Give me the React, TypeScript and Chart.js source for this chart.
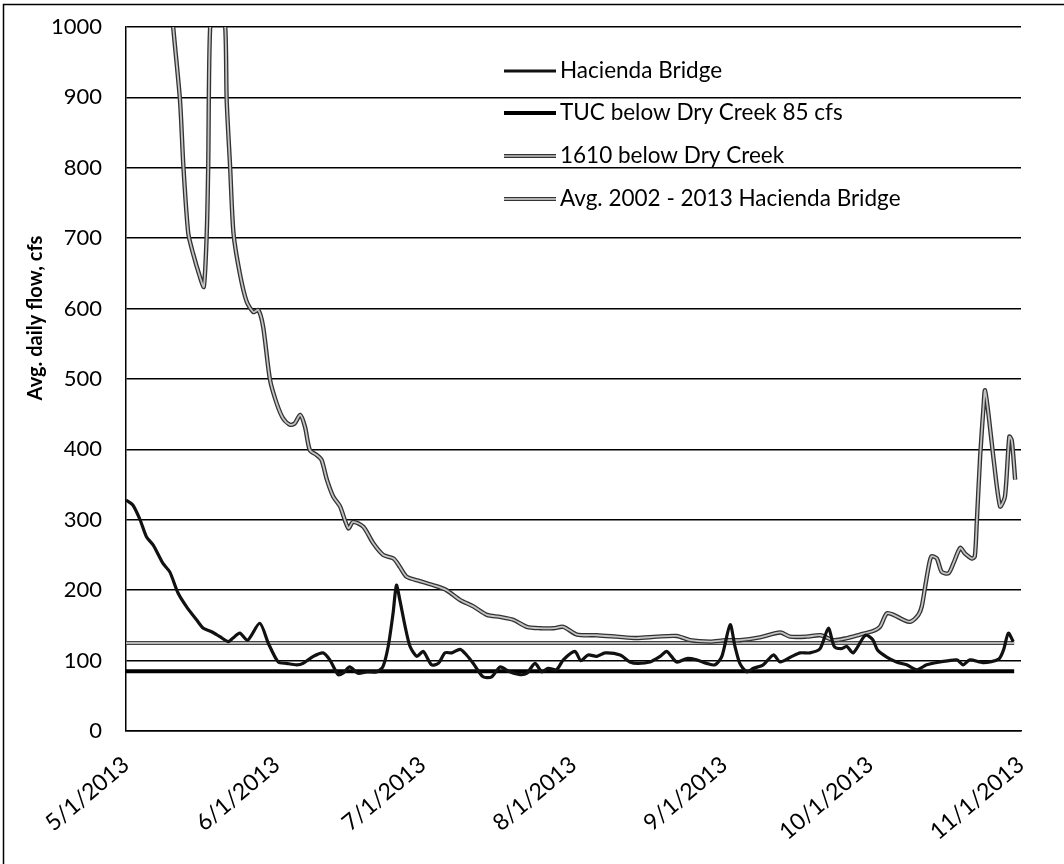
import { useEffect, useRef } from 'react';
import { Chart, registerables } from 'chart.js';

Chart.register(...registerables);

// ---- Data (day offsets from 5/1/2013, average daily flow in cfs) ----
const monthTickDays = [0, 31, 61, 92, 123, 153, 184];
const monthTickLabels = ['5/1/2013', '6/1/2013', '7/1/2013', '8/1/2013', '9/1/2013', '10/1/2013', '11/1/2013'];
const yAxisTitle = 'Avg. daily flow, cfs';

const seriesNames = [
  'Hacienda Bridge',
  'TUC below Dry Creek 85 cfs',
  '1610 below Dry Creek',
  'Avg. 2002 - 2013 Hacienda Bridge',
];

const haciendaDays = [
  0, 1.4, 2.9, 4.2, 5.6, 7.6, 9, 10.7, 12.5, 14.5, 15.9, 17.6, 19.3, 21, 22, 23.4, 25, 27.5, 29.3,
  31.3, 33, 35.1, 36.4, 38.5, 40.5, 41.9, 43.6, 44.6, 46, 47.7, 49.5, 51.5, 52.8, 53.9, 54.9, 55.6,
  56.3, 57.4, 58.4, 59.8, 61.1, 62.8, 64.2, 65.6, 67, 68.7, 70, 71.4, 73.4, 75.2, 76.9, 78.9, 81,
  82.4, 84.1, 85.5, 86.8, 88.5, 89.9, 92.3, 93.5, 95, 96.8, 98.5, 101.6, 103.6, 105.3, 107.7, 109.8,
  111.2, 113.2, 115.3, 117.3, 119.4, 121.1, 122.5, 124.2, 125.2, 126.2, 127.6, 129, 131, 133.1,
  134.5, 136.9, 138.6, 140.6, 142.7, 144.4, 145.6, 147, 148.2, 149.5, 152, 153.5, 154.5, 156.4,
  158.4, 160.5, 162.6, 164.6, 167.4, 170.8, 172.1, 173.5, 176.3, 179.4, 180.4, 181.4, 182.4,
];
const haciendaFlow = [
  328, 321, 300, 276, 264, 238, 226, 196, 176, 158, 146, 141, 134, 127, 132, 139, 129, 153, 124,
  98, 96, 94, 96, 106, 111, 101, 80, 82, 91, 82, 84, 84, 91, 120, 167, 207,
  186, 148, 120, 106, 113, 94, 96, 111, 111, 116, 108, 96, 77, 77, 91, 84, 80,
  82, 96, 84, 89, 87, 101, 113, 100, 108, 106, 111, 108, 98, 96, 98, 106,
  113, 98, 103, 101, 96, 94, 106, 151, 120, 96, 84, 89, 94, 108,
  98, 106, 111, 111, 117, 146, 120, 117, 120, 111, 136, 130, 115, 105,
  98, 94, 87, 94, 98, 101, 94, 101, 97, 102, 115, 139, 127,
];

const tucDays = [0, 182.6];
const tucFlow = [85, 85];

const site1610Days = [
  9, 9.7, 11.1, 11.8, 12.8, 13.8, 15.2, 16, 16.6, 16.9, 17.3, 18.8, 20.4, 20.7, 21.4, 22.1, 23.4,
  24.8, 26.2, 27.2, 28.2, 29.6, 31, 32.3, 33.7, 34.7, 35.8, 36.8, 37.8, 39.2, 40.2, 41.3, 42.6, 44,
  45.7, 46.7, 48.8, 50.8, 52.9, 55, 56.3, 57.7, 60.4, 63.2, 65.9, 68.7, 71.4, 74.2, 76.9, 79.6,
  82.4, 85.1, 87.9, 89.9, 92.7, 96.8, 100.9, 105, 109.1, 113.2, 116, 120.1, 123.2, 126.2, 130.3,
  134.5, 136.5, 139.9, 142.8, 145.5, 148.2, 150.9, 153.6, 155, 156.4, 157.8, 159.8, 161.2, 162.9,
  163.6, 164.3, 165, 165.6, 166.7, 167.7, 169.1, 170.1, 171.5, 172.5, 173.9, 174.5, 174.9, 175.6,
  176.3, 176.6, 177.3, 178.3, 179.7, 180.7, 181.6, 182.1, 182.8,
];
const site1610Flow = [
  1060, 1000, 896, 802, 707, 678, 645, 631, 707, 802, 1000, 1100, 1000, 896, 802, 707, 650,
  610, 595, 598, 574, 499, 465, 444, 435, 437, 449, 432, 399, 392, 385, 357, 333, 319,
  288, 297, 290, 267, 250, 245, 233, 219, 213, 207, 200, 186, 177, 165, 162, 158,
  148, 146, 146, 148, 137, 136, 134, 132, 134, 135, 129, 127, 129, 129, 133,
  140, 134, 134, 136, 129, 132, 137, 142, 148, 167, 165, 158, 155, 165,
  177, 205, 233, 248, 245, 226, 224, 238, 260, 252, 245, 248, 295, 390,
  461, 484, 451, 390, 319, 333, 418, 413, 357,
];

const avgDays = [0, 182.6];
const avgFlow = [125, 125];

const pts = (xs: number[], ys: number[]) => xs.map((x, i) => ({ x, y: ys[i] }));

const FONT = 'Lato, "Open Sans", sans-serif';

const overlayPlugin = {
  id: 'overlay',
  afterDraw(chart: any) {
    const ctx = chart.ctx as CanvasRenderingContext2D;
    ctx.save();
    // outer frame
    ctx.strokeStyle = '#000';
    ctx.lineWidth = 1.5;
    ctx.beginPath();
    ctx.moveTo(3.5, 864);
    ctx.lineTo(3.5, 4.5);
    ctx.lineTo(1064, 4.5);
    ctx.stroke();

    // y axis title
    ctx.translate(36, 318);
    ctx.rotate(-Math.PI / 2);
    ctx.font = `bold 20px ${FONT}`;
    ctx.fillStyle = '#000';
    ctx.textAlign = 'center';
    ctx.textBaseline = 'middle';
    ctx.fillText(yAxisTitle, 0, 0);
    ctx.restore();

    // legend
    const legendY = [71, 113, 156, 199];
    const x0 = 504;
    const x1 = 556;
    ctx.save();
    seriesNames.forEach((name, i) => {
      const y = legendY[i];
      ctx.lineCap = 'butt';
      if (i === 0) {
        ctx.strokeStyle = '#111';
        ctx.lineWidth = 3;
        ctx.beginPath(); ctx.moveTo(x0, y); ctx.lineTo(x1, y); ctx.stroke();
      } else if (i === 1) {
        ctx.strokeStyle = '#000';
        ctx.lineWidth = 4;
        ctx.beginPath(); ctx.moveTo(x0, y); ctx.lineTo(x1, y); ctx.stroke();
      } else {
        ctx.strokeStyle = '#333';
        ctx.lineWidth = 4;
        ctx.beginPath(); ctx.moveTo(x0, y); ctx.lineTo(x1, y); ctx.stroke();
        ctx.strokeStyle = i === 2 ? '#c4c4c4' : '#dcdcdc';
        ctx.lineWidth = 1.6;
        ctx.beginPath(); ctx.moveTo(x0, y); ctx.lineTo(x1, y); ctx.stroke();
      }
      ctx.font = `22.5px ${FONT}`;
      ctx.fillStyle = '#000';
      ctx.textAlign = 'left';
      ctx.textBaseline = 'middle';
      ctx.fillText(name, x1 + 4, y);
    });
    ctx.restore();
  },
};

export default function App() {
  const canvasRef = useRef<HTMLCanvasElement>(null);

  useEffect(() => {
    document.body.style.margin = '0';
    const canvas = canvasRef.current;
    if (!canvas) return;

    const chart = new Chart(canvas, {
      type: 'line',
      data: {
        datasets: [
          {
            label: seriesNames[0],
            data: pts(haciendaDays, haciendaFlow),
            borderColor: '#111',
            borderWidth: 3.2,
            tension: 0.25,
            order: 1,
          },
          {
            label: seriesNames[1],
            data: pts(tucDays, tucFlow),
            borderColor: '#000',
            borderWidth: 4,
            tension: 0,
            order: 2,
          },
          {
            label: seriesNames[2],
            data: pts(site1610Days, site1610Flow),
            borderColor: '#c4c4c4',
            borderWidth: 1.8,
            tension: 0.25,
            order: 3,
          },
          {
            label: seriesNames[2] + ' outline',
            data: pts(site1610Days, site1610Flow),
            borderColor: '#333',
            borderWidth: 4.4,
            tension: 0.25,
            order: 4,
          },
          {
            label: seriesNames[3],
            data: pts(avgDays, avgFlow),
            borderColor: '#dcdcdc',
            borderWidth: 1.6,
            tension: 0,
            order: 5,
          },
          {
            label: seriesNames[3] + ' outline',
            data: pts(avgDays, avgFlow),
            borderColor: '#444',
            borderWidth: 4,
            tension: 0,
            order: 6,
          },
        ],
      },
      options: {
        animation: false,
        responsive: false,
        maintainAspectRatio: false,
        layout: { padding: { left: 0, right: 43, top: 27, bottom: 0 } },
        elements: { point: { radius: 0 } },
        datasets: { line: { clip: 0, fill: false } } as any,
        plugins: {
          legend: { display: false },
          tooltip: { enabled: false },
        },
        scales: {
          x: {
            type: 'linear',
            min: 0,
            max: 184,
            afterBuildTicks: (scale: any) => {
              scale.ticks = monthTickDays.map((v) => ({ value: v }));
            },
            afterFit: (scale: any) => {
              scale.height = 133;
              scale.paddingLeft = 0;
              scale.paddingRight = 0;
            },
            grid: { display: false, drawTicks: false },
            border: { display: true, color: '#000', width: 1.5 },
            ticks: {
              autoSkip: false,
              minRotation: 40,
              maxRotation: 40,
              padding: 20,
              color: '#000',
              font: { family: FONT, size: 23 },
              callback: (v: any) => {
                const idx = monthTickDays.indexOf(Number(v));
                return idx >= 0 ? monthTickLabels[idx] : '';
              },
            },
          },
          y: {
            min: 0,
            max: 1000,
            afterFit: (scale: any) => {
              scale.width = 126;
              scale.paddingTop = 0;
              scale.paddingBottom = 0;
            },
            grid: { color: '#000', lineWidth: 1.5, drawTicks: false },
            border: { display: true, color: '#000', width: 1.5 },
            ticks: {
              stepSize: 100,
              padding: 24,
              color: '#000',
              font: { family: FONT, size: 22 },
              callback: (v: any) => String(v),
            },
          },
        },
      },
      plugins: [overlayPlugin],
    });

    return () => chart.destroy();
  }, []);

  return (
    <div style={{ width: 1064, height: 864, background: '#fff', position: 'relative' }}>
      <canvas ref={canvasRef} width={1064} height={864} style={{ display: 'block' }} />
    </div>
  );
}
